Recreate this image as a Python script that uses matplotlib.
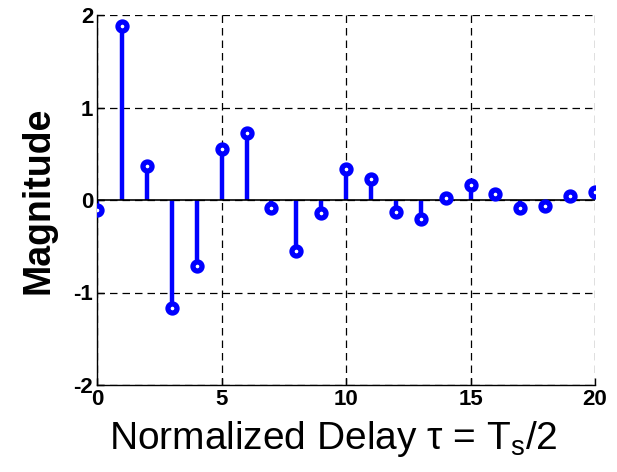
import matplotlib
matplotlib.use("Agg")
import matplotlib.pyplot as plt
import numpy as np

delay = list(range(21))
magnitude = [-0.11, 1.88, 0.37, -1.17, -0.715, 0.55, 0.72, -0.09, -0.55, -0.145,
             0.33, 0.23, -0.125, -0.21, 0.025, 0.165, 0.065, -0.09, -0.065, 0.04, 0.083]
xticks = [0, 5, 10, 15, 20]
yticks = [-2, -1, 0, 1, 2]

plt.rcParams['font.family'] = ['Liberation Sans', 'DejaVu Sans']
plt.rcParams['mathtext.fontset'] = 'custom'
plt.rcParams['mathtext.rm'] = 'Liberation Sans'
plt.rcParams['mathtext.it'] = 'Liberation Sans'

fig = plt.figure(figsize=(6.17, 4.72), dpi=100)
ax = fig.add_axes([97.3/617, 1 - 385/472, (595 - 97.3)/617, (385 - 15)/472])

ml, sl, bl = ax.stem(delay, magnitude, basefmt='k-')
plt.setp(sl, color='#0000ff', linewidth=3.2)
plt.setp(ml, marker='o', markersize=6.5, markerfacecolor='white',
         markeredgecolor='#0000ff', markeredgewidth=3.8, zorder=4)
plt.setp(bl, color='black', linewidth=1.2, zorder=3)
bl.set_xdata([0, 20])

ax.set_xlim(0, 20)
ax.set_ylim(-2, 2)
ax.set_xticks(xticks)
ax.set_yticks(yticks)
ax.set_xticklabels([str(v) for v in xticks], fontsize=16, fontweight='bold')
ax.set_yticklabels([str(v) for v in yticks], fontsize=16, fontweight='bold')
ax.tick_params(direction='in', length=5, width=1, pad=3)
ax.grid(True, color='black', linestyle=(0, (6, 4)), linewidth=0.9)
ax.set_axisbelow(True)
ax.spines['top'].set_visible(False)
ax.spines['right'].set_visible(False)
for s in ['left', 'bottom']:
    ax.spines[s].set_linewidth(1.0)

ax.set_xlabel('Normalized Delay τ = T$_\\mathregular{s}$/2', fontsize=28, labelpad=6)
ax.xaxis.label.set_x(0.475)
ax.set_ylabel('Magnitude', fontsize=27, fontweight='bold', labelpad=12)

fig.savefig('out.png', dpi=100)
